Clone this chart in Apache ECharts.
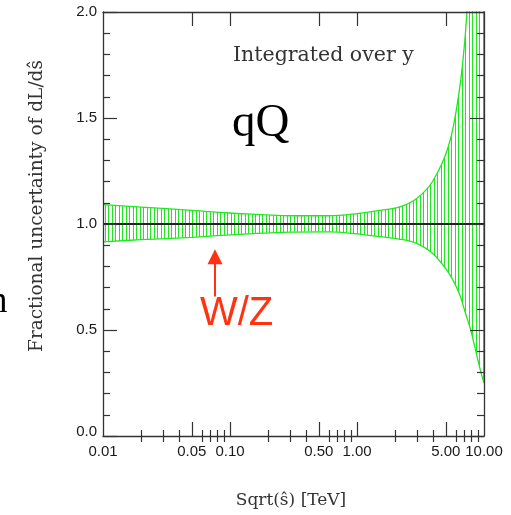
<!DOCTYPE html>
<html>
<head>
<meta charset="utf-8">
<script src="https://cdn.jsdelivr.net/npm/echarts@6/dist/echarts.min.js"></script>
<style>
html,body{margin:0;padding:0;background:#fff;}
#chart{width:511px;height:515px;}
</style>
</head>
<body>
<div id="chart"></div>
<script>
// ---- data ----
const energyTeV = [0.01, 0.02, 0.05, 0.1, 0.3, 0.6, 1.0, 1.5, 2.14, 2.9, 3.91, 5.27, 6.36, 7.14, 7.85, 8.57, 9.35, 10];
const upperBand = [1.091, 1.080, 1.064, 1.052, 1.039, 1.039, 1.049, 1.064, 1.080, 1.117, 1.198, 1.37, 1.62, 1.90, 2.3, 2.7, 3.2, 3.6];
const lowerBand = [0.916, 0.926, 0.937, 0.949, 0.962, 0.963, 0.953, 0.940, 0.929, 0.910, 0.863, 0.769, 0.674, 0.580, 0.501, 0.406, 0.312, 0.25];
const referenceLevel = 1.0;
const xTickLabels = [0.01, 0.05, 0.1, 0.5, 1, 5, 10];
const xMajorTicks = [0.05, 0.1, 0.5, 1, 5];
const xMinorTicks = [0.02, 0.03, 0.04, 0.06, 0.07, 0.08, 0.09, 0.2, 0.3, 0.4, 0.6, 0.7, 0.8, 0.9, 2, 3, 4, 6, 7, 8, 9];
const yTickLabels = [0, 0.5, 1.0, 1.5, 2.0];
const arrowX = 0.0762, arrowFrom = 0.658, arrowTo = 0.846;

// ---- styling ----
const green = '#1fe81f';
const axisColor = '#333';
const hatch = document.createElement('canvas');
hatch.width = 7; hatch.height = 4;
(function(){const c = hatch.getContext('2d'); c.fillStyle = green; c.fillRect(0,0,1,4); c.fillRect(3,0,1,4);})();

const axLine = {show: true, onZero: false, lineStyle: {color: axisColor, width: 1.3}};
const tickStyle = {color: axisColor, width: 1.2};
const labelFont = {fontFamily: '"Liberation Sans", Arial, sans-serif', fontSize: 15, color: '#1a1a1a'};

function xAx(pos, ticks, len, showLabel, showLine) {
  return {
    type: 'log', logBase: 10, min: 0.01, max: 10, position: pos, z: 10,
    axisLine: showLine ? axLine : {show: false},
    axisTick: {show: true, inside: true, length: len, lineStyle: tickStyle, customValues: ticks},
    axisLabel: showLabel ? Object.assign({show: true, margin: 8, customValues: xTickLabels,
      formatter: v => Number(v).toFixed(2)}, labelFont) : {show: false},
    splitLine: {show: false}, minorTick: {show: false}
  };
}
function yAx(pos, showLabel) {
  return {
    type: 'value', min: 0, max: 2, interval: 0.5, position: pos, z: 10,
    axisLine: axLine,
    axisTick: {show: true, inside: true, length: 14, lineStyle: tickStyle},
    minorTick: {show: true, splitNumber: 5, length: 7, lineStyle: tickStyle},
    axisLabel: showLabel ? Object.assign({show: true, margin: 6,
      formatter: v => v === 0 ? '{b|0.0}' : v.toFixed(1),
      rich: {b: Object.assign({padding: [0, 0, 8, 0]}, labelFont)}}, labelFont) : {show: false},
    splitLine: {show: false}, minorSplitLine: {show: false}
  };
}

const chart = echarts.init(document.getElementById('chart'), null, {renderer: 'canvas'});
chart.setOption({
  animation: false,
  backgroundColor: '#fff',
  grid: {left: 103, top: 12, width: 381, height: 424, containLabel: false},
  xAxis: [
    xAx('bottom', xMajorTicks, 14, true, true),
    xAx('bottom', xMinorTicks, 6, false, false),
    xAx('top', xMajorTicks, 14, false, true),
    xAx('top', xMinorTicks, 6, false, false)
  ],
  yAxis: [yAx('left', true), yAx('right', false)],
  series: [
    {
      // upper edge: hatched area down to the axis
      type: 'line', name: 'upper', z: 2,
      data: energyTeV.map((x, i) => [x, upperBand[i]]),
      smooth: 0.35, symbol: 'none', clip: true,
      lineStyle: {color: green, width: 1.3},
      areaStyle: {color: {image: hatch, repeat: 'repeat'}, opacity: 1, origin: 'start'}
    },
    {
      // lower edge: white area below it leaves the hatch only inside the band
      type: 'line', name: 'lower', z: 3,
      data: energyTeV.map((x, i) => [x, lowerBand[i]]),
      smooth: 0.35, symbol: 'none', clip: true,
      lineStyle: {color: green, width: 1.3},
      areaStyle: {color: '#ffffff', opacity: 1, origin: 'start'}
    },
    {
      type: 'line', name: 'ref', data: [], z: 4,
      markLine: {
        silent: true, symbol: 'none', label: {show: false},
        lineStyle: {color: '#222', width: 2, type: 'solid'},
        data: [{yAxis: referenceLevel}]
      }
    },
    {
      type: 'line', name: 'arrow', data: [], z: 4,
      markLine: {
        silent: true, symbol: ['none', 'triangle'], symbolSize: [15, 15],
        label: {show: false},
        lineStyle: {color: '#ff3311', width: 2, type: 'solid'},
        data: [[{coord: [arrowX, arrowFrom]}, {coord: [arrowX, arrowTo]}]]
      }
    }
  ],
  graphic: [
    {type: 'text', x: 233, y: 56, z: 20, style: {text: 'Integrated over y', font: '20.5px "DejaVu Serif"', fill: '#333', align: 'left', verticalAlign: 'middle'}},
    {type: 'text', x: 232, y: 124, z: 20, style: {text: 'qQ', font: '47px "Liberation Serif"', fill: '#000', align: 'left', verticalAlign: 'middle'}},
    {type: 'text', x: -11, y: 302, z: 20, style: {text: 'n', font: '37px "Liberation Serif"', fill: '#000', align: 'left', verticalAlign: 'middle'}},
    {type: 'text', x: 200, y: 314, z: 20, style: {text: 'W/Z', font: '40px "Liberation Sans"', fill: '#ff3311', align: 'left', verticalAlign: 'middle'}},
    {type: 'text', x: 37, y: 206, z: 20, rotation: Math.PI / 2, style: {text: 'Fractional uncertainty of dL/dŝ', font: '18.5px "DejaVu Serif"', fill: '#333', align: 'center', verticalAlign: 'middle'}},
    {type: 'text', x: 291, y: 501, z: 20, style: {text: 'Sqrt(ŝ) [TeV]', font: '17px "DejaVu Serif"', fill: '#333', align: 'center', verticalAlign: 'middle'}}
  ]
});
</script>
</body>
</html>
